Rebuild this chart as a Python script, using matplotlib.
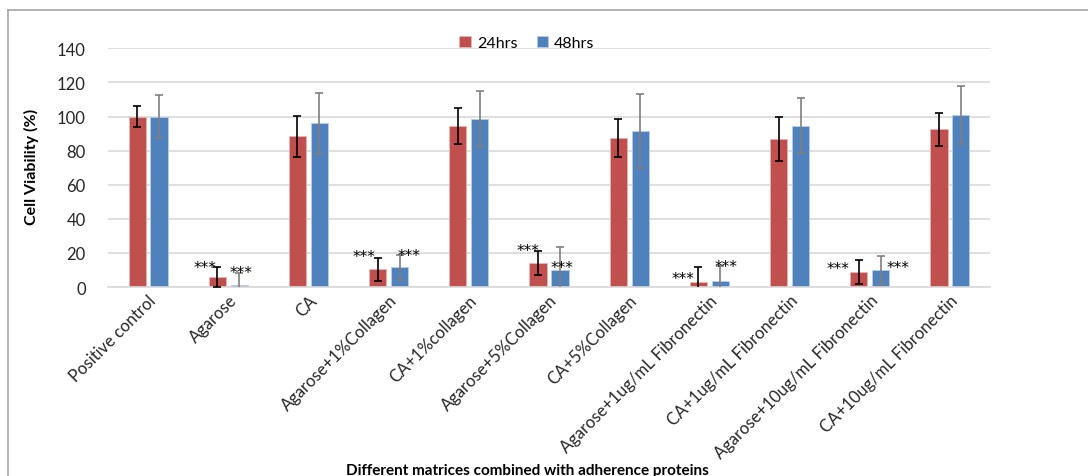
import numpy as np
import matplotlib
matplotlib.use("Agg")
import matplotlib.pyplot as plt
from matplotlib.lines import Line2D

plt.rcParams['font.family'] = ['Lato', 'DejaVu Sans']

# ---------------------------------------
# data
# ---------------------------------------
categories = ["Positive control", "Agarose", "CA", "Agarose+1%Collagen", "CA+1%collagen",
              "Agarose+5%Collagen", "CA+5%Collagen", "Agarose+1ug/mL Fibronectin",
              "CA+1ug/mL Fibronectin", "Agarose+10ug/mL Fibronectin", "CA+10ug/mL Fibronectin"]
v24 = [100, 6, 88.5, 10.5, 94.5, 14, 87.5, 2.8, 86.8, 9, 92.5]
e24 = [6, 6, 12, 6.8, 10.5, 7.2, 11, 9, 13, 7.1, 9.7]
v48 = [100, 1, 96, 11.5, 98.5, 10, 91.5, 3.4, 94.7, 10, 101]
e48 = [12.7, 7.5, 18, 7.4, 16.3, 13.5, 21.5, 9, 16.2, 8.2, 17]

# *** labels (significance) for agarose groups
star_idx = [1, 3, 5, 7, 9]
star24_dx = [-0.15, -0.17, -0.13, -0.19, -0.26]
star24_y = [14.5, 21, 24.5, 8, 14]
star48_dx = [0.02, 0.12, 0.03, 0.07, 0.22]
star48_y = [11.6, 21.5, 14.5, 15, 14.5]

red = "#c0504d"
blue = "#4f81bd"

fig = plt.figure(figsize=(10.88, 4.77), dpi=100)
ax = fig.add_axes([0.0993, 0.3962, 0.8106, 0.5004])

x = np.arange(len(categories))
w = 0.215
off = 0.137
ax.bar(x - off, v24, w, color=red, edgecolor="#e8b5b4", linewidth=0.6, label="24hrs", zorder=2)
ax.bar(x + off, v48, w, color=blue, edgecolor="#b9cde6", linewidth=0.6, label="48hrs", zorder=2)
ax.errorbar(x - off, v24, yerr=e24, fmt="none", ecolor="black", elinewidth=1.2, capsize=3, capthick=1.2, zorder=3)
ax.errorbar(x + off, v48, yerr=e48, fmt="none", ecolor="#7f7f7f", elinewidth=1.2, capsize=3, capthick=1.2, zorder=3)

for i, k in enumerate(star_idx):
    ax.text(k - off + star24_dx[i], star24_y[i] - 5.5, "***", ha="center", va="baseline",
            fontsize=11, family="DejaVu Sans", zorder=4)
    ax.text(k + off + star48_dx[i], star48_y[i] - 5.5, "***", ha="center", va="baseline",
            fontsize=11, family="DejaVu Sans", zorder=4)

ax.set_xlim(-0.5, len(categories) - 0.5)
ax.set_ylim(0, 140)
ax.set_yticks(range(0, 141, 20))
ax.grid(axis="y", color="#d9d9d9", linewidth=1.2, zorder=0)
ax.set_axisbelow(True)
for s in ["top", "right", "left"]:
    ax.spines[s].set_visible(False)
ax.spines["bottom"].set_color("#d9d9d9")
ax.spines["bottom"].set_linewidth(1.2)
ax.tick_params(axis="both", length=0, labelsize=12, colors="#262626")
ax.tick_params(axis="y", pad=16)
ax.set_xticks(x)
ax.set_xticklabels(categories, rotation=45, ha="right", rotation_mode="anchor", fontsize=12)

fig.text(31 / 1088, 1 - 167 / 477, "Cell Viability (%)", rotation=90, ha="center", va="center",
         fontsize=11.5, fontweight="bold")
fig.text(527 / 1088, 1 - 471 / 477, "Different matrices combined with adherence proteins",
         ha="center", va="center", fontsize=11, fontweight="bold")

ax.legend(loc="center", bbox_to_anchor=(527 / 1088, 1 - 44 / 477), bbox_transform=fig.transFigure,
          ncol=2, frameon=False, fontsize=11.5, handlelength=0.7, handleheight=0.7,
          handletextpad=0.4, columnspacing=1.2)

# outer chart frame (cropped)
fig.add_artist(Line2D([8 / 1088, 1], [1 - 11 / 477, 1 - 11 / 477], transform=fig.transFigure, color="#a6a6a6", lw=1.2))
fig.add_artist(Line2D([8 / 1088, 8 / 1088], [0, 1 - 11 / 477], transform=fig.transFigure, color="#a6a6a6", lw=1.2))

fig.savefig("out.png", dpi=100)
